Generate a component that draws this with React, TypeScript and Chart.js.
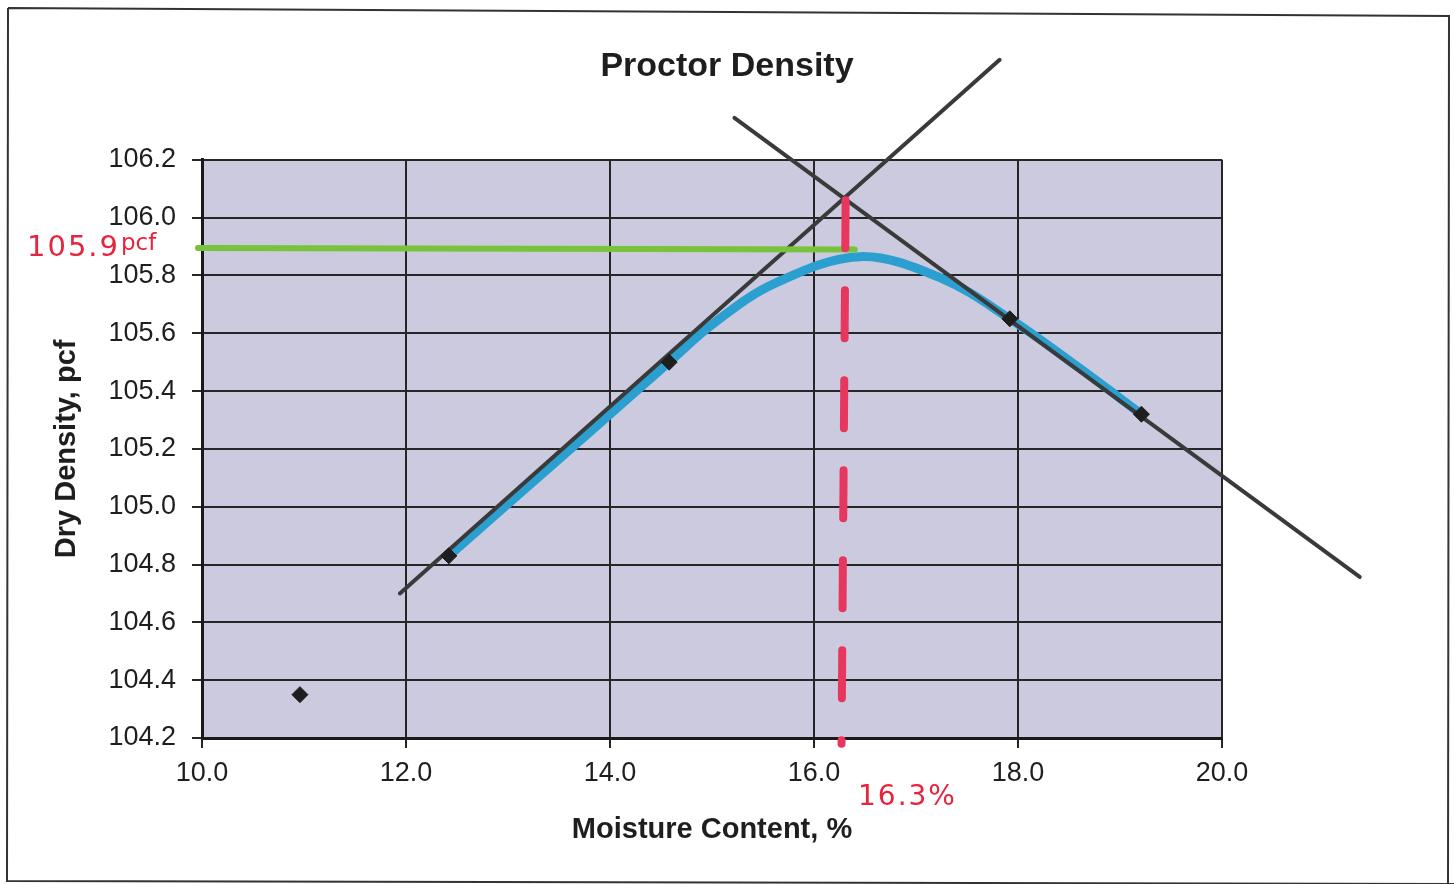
import React, { useEffect, useRef } from "react";
import { Chart, registerables } from "chart.js";

Chart.register(...registerables);

// Measured points (moisture %, dry density pcf)
const moisture = [10.96, 12.42, 14.58, 17.92, 19.21];
const density = [104.35, 104.83, 105.5, 105.65, 105.32];

// Hand-drawn blue curve through the points
const curveX = [12.42, 13.5, 14.58, 15.0, 15.6, 16.45, 17.25, 17.92, 18.6, 19.21];
const curveY = [104.83, 105.165, 105.5, 105.63, 105.77, 105.865, 105.79, 105.65, 105.48, 105.32];

// Hand-drawn tangent lines
const riseX = [11.94, 17.82];
const riseY = [104.7, 106.546];
const fallX = [15.22, 21.35];
const fallY = [106.345, 104.757];

// Max dry density marker (green) and optimum moisture (red)
const maxDensityX = [9.96, 16.4];
const maxDensityY = [105.895, 105.89];
const optMoistX = [16.31, 16.27];
const optMoistY = [106.06, 104.18];

const xTicks = [10, 12, 14, 16, 18, 20];
const yTicks = [104.2, 104.4, 104.6, 104.8, 105.0, 105.2, 105.4, 105.6, 105.8, 106.0, 106.2];

const pts = (xs: number[], ys: number[]) => xs.map((x, i) => ({ x, y: ys[i] }));

const FONT = '"Liberation Sans", Arial, sans-serif';

const decorPlugin = {
  id: "decor",
  beforeDraw(chart: any) {
    const { ctx, chartArea } = chart;
    ctx.save();
    ctx.fillStyle = "#ffffff";
    ctx.fillRect(0, 0, chart.width, chart.height);
    ctx.fillStyle = "#cccadf";
    ctx.fillRect(chartArea.left, chartArea.top, chartArea.right - chartArea.left, chartArea.bottom - chartArea.top);
    ctx.restore();
  },
  afterDraw(chart: any) {
    const { ctx } = chart;
    ctx.save();
    // page frame
    ctx.strokeStyle = "#333";
    ctx.lineWidth = 2;
    ctx.beginPath();
    ctx.moveTo(8, 8);
    ctx.lineTo(1449, 16);
    ctx.lineTo(1448, 890);
    ctx.moveTo(8, 8);
    ctx.lineTo(7, 881);
    ctx.lineTo(1454, 884);
    ctx.stroke();
    // handwritten notes
    ctx.fillStyle = "#e8233d";
    ctx.textBaseline = "alphabetic";
    ctx.textAlign = "left";
    (ctx as any).letterSpacing = "2px";
    ctx.font = `29px "DejaVu Sans", sans-serif`;
    ctx.fillText("105.9", 27, 256);
    (ctx as any).letterSpacing = "0px";
    ctx.font = `23px "DejaVu Sans", sans-serif`;
    ctx.fillText("pcf", 121, 250);
    (ctx as any).letterSpacing = "2px";
    ctx.font = `28px "DejaVu Sans", sans-serif`;
    ctx.fillText("16.3%", 858, 805);
    ctx.restore();
  },
};

export default function App() {
  const ref = useRef<HTMLCanvasElement | null>(null);
  useEffect(() => {
    if (!ref.current) return;
    const chart = new Chart(ref.current, {
      type: "scatter",
      data: {
        datasets: [
          {
            label: "Proctor points",
            data: pts(moisture, density),
            pointStyle: "rectRot",
            pointRadius: 8,
            backgroundColor: "#1e1e1e",
            borderColor: "#1e1e1e",
            showLine: false,
            order: 0,
          },
          {
            label: "Optimum moisture",
            data: pts(optMoistX, optMoistY),
            showLine: true,
            borderColor: "#e8375e",
            borderWidth: 8,
            borderDash: [48, 42],
            borderCapStyle: "round",
            pointRadius: 0,
            clip: false,
            order: 1,
          },
          {
            label: "Max dry density",
            data: pts(maxDensityX, maxDensityY),
            showLine: true,
            borderColor: "#79c23c",
            borderWidth: 6,
            borderCapStyle: "round",
            pointRadius: 0,
            clip: false,
            order: 2,
          },
          {
            label: "Rising tangent",
            data: pts(riseX, riseY),
            showLine: true,
            borderColor: "#3a3a3a",
            borderWidth: 4,
            borderCapStyle: "round",
            pointRadius: 0,
            clip: false,
            order: 3,
          },
          {
            label: "Falling tangent",
            data: pts(fallX, fallY),
            showLine: true,
            borderColor: "#3a3a3a",
            borderWidth: 4,
            borderCapStyle: "round",
            pointRadius: 0,
            clip: false,
            order: 4,
          },
          {
            label: "Curve",
            data: pts(curveX, curveY),
            showLine: true,
            borderColor: "#2b9fcf",
            borderWidth: 9,
            borderCapStyle: "round",
            borderJoinStyle: "round",
            tension: 0.35,
            pointRadius: 0,
            clip: false,
            order: 5,
          },
        ],
      },
      options: {
        responsive: false,
        animation: false,
        events: [],
        layout: { padding: 0 },
        plugins: {
          legend: { display: false },
          tooltip: { enabled: false },
          title: {
            display: true,
            text: "Proctor Density",
            color: "#1e1e1e",
            font: { family: FONT, size: 34, weight: "bold" },
            padding: { top: 46, bottom: 73 },
          },
        },
        scales: {
          x: {
            type: "linear",
            min: 10,
            max: 20,
            afterBuildTicks: (s: any) => {
              s.ticks = xTicks.map((v) => ({ value: v }));
            },
            afterFit: (s: any) => {
              s.height = 146;
            },
            ticks: {
              color: "#1e1e1e",
              font: { family: FONT, size: 27 },
              padding: 9,
              maxRotation: 0,
              callback: (v: any) => Number(v).toFixed(1),
            },
            grid: { color: "#262626", lineWidth: 2, tickLength: 10, drawTicks: true },
            border: { color: "#1a1a1a", width: 3 },
            title: {
              display: true,
              text: "Moisture Content, %",
              color: "#1e1e1e",
              font: { family: FONT, size: 29, weight: "bold" },
              padding: { top: 0, bottom: 37 },
            },
          },
          y: {
            type: "linear",
            min: 104.2,
            max: 106.2,
            afterBuildTicks: (s: any) => {
              s.ticks = yTicks.map((v) => ({ value: v }));
            },
            afterFit: (s: any) => {
              s.width = 202;
            },
            ticks: {
              color: "#1e1e1e",
              font: { family: FONT, size: 27 },
              padding: 16,
              callback: (v: any) => Number(v).toFixed(1),
            },
            grid: { color: "#262626", lineWidth: 2, tickLength: 10, drawTicks: true },
            border: { color: "#1a1a1a", width: 3 },
            title: {
              display: true,
              text: "Dry Density, pcf",
              color: "#1e1e1e",
              font: { family: FONT, size: 29, weight: "bold" },
              padding: { top: 50, bottom: 0 },
            },
          },
          yRight: {
            type: "linear",
            position: "right",
            min: 0,
            max: 1,
            afterFit: (s: any) => {
              s.width = 232;
            },
            ticks: { display: false },
            grid: { display: false },
            border: { display: false },
          },
        },
      },
      plugins: [decorPlugin],
    });
    return () => chart.destroy();
  }, []);
  return (
    <div style={{ position: "fixed", left: 0, top: 0, width: 1454, height: 884, background: "#fff" }}>
      <canvas ref={ref} width={1454} height={884} style={{ display: "block" }} />
    </div>
  );
}
